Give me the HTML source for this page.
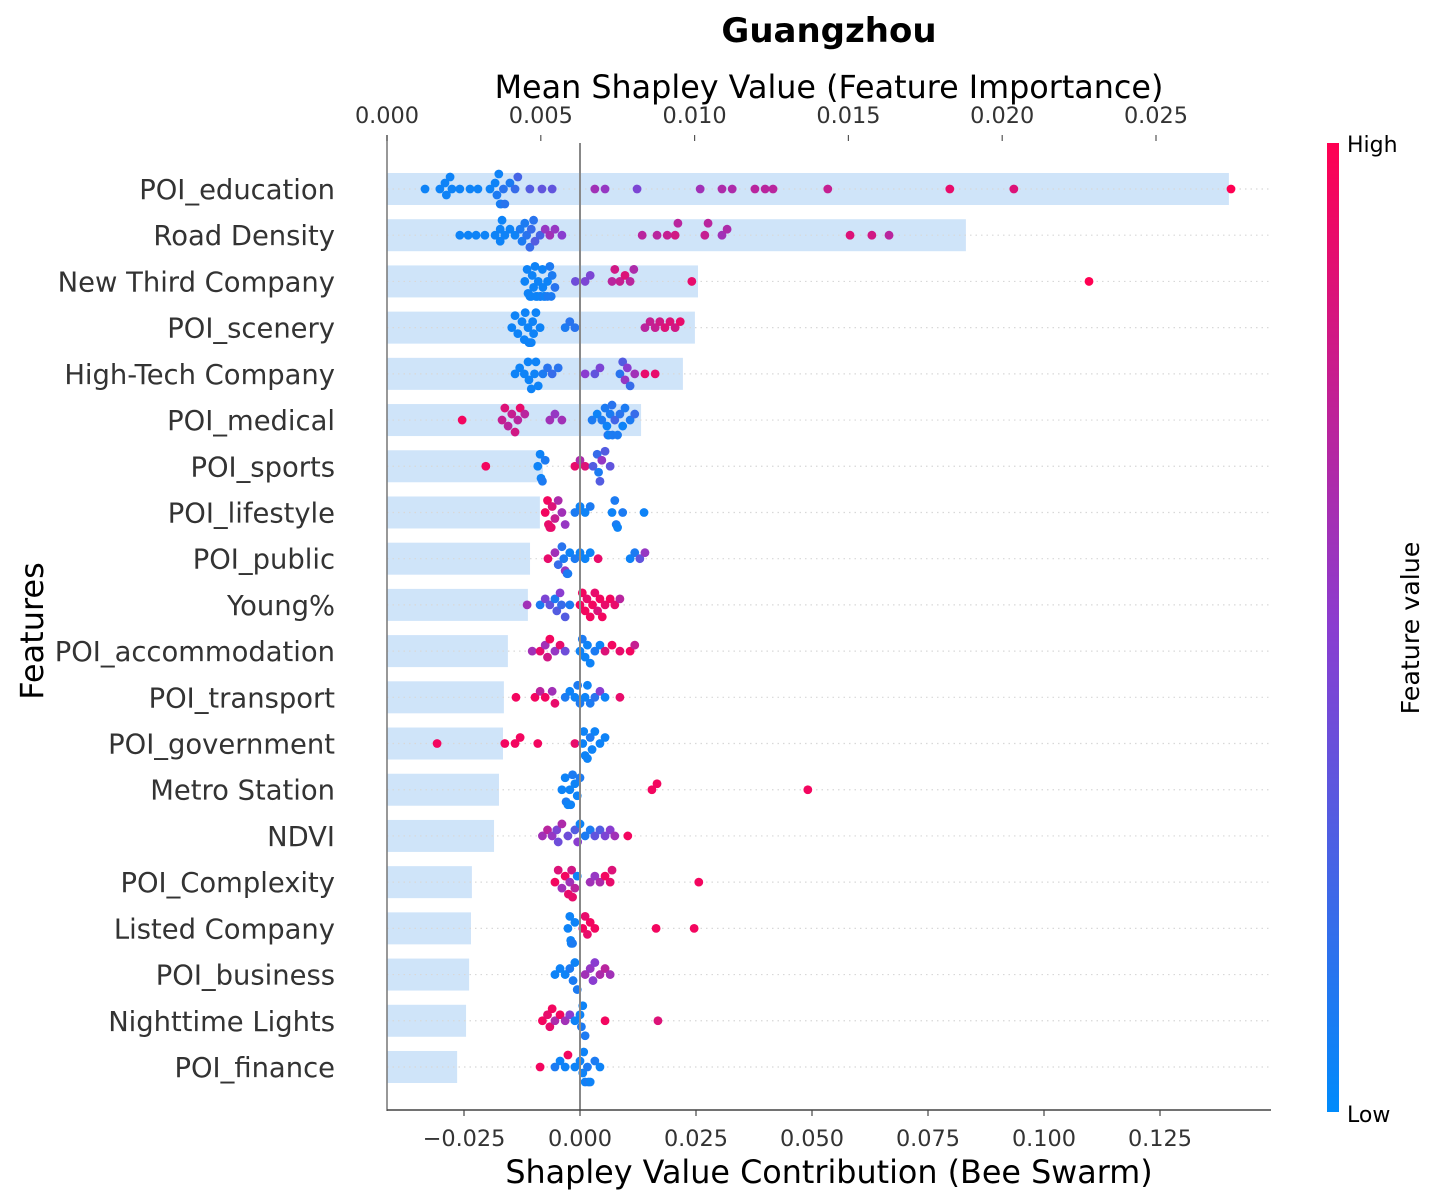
<!DOCTYPE html>
<html><head><meta charset="utf-8">
<style>
html,body{margin:0;padding:0;background:#fff;}
svg{display:block;font-family:"DejaVu Sans","Liberation Sans",sans-serif;}
</style></head>
<body>
<svg id="chart" width="1440" height="1204" viewBox="0 0 1440 1204">
<defs>
<linearGradient id="cbar" x1="0" y1="1" x2="0" y2="0">
<stop offset="0" stop-color="#008bfb"/>
<stop offset="0.5" stop-color="#8a3dd0"/>
<stop offset="1" stop-color="#ff0052"/>
</linearGradient>
</defs>
<text x="829" y="42" text-anchor="middle" font-size="34" font-weight="bold">Guangzhou</text>
<text x="829" y="98" text-anchor="middle" font-size="31.8">Mean Shapley Value (Feature Importance)</text>
<text x="829" y="1183" text-anchor="middle" font-size="31.8">Shapley Value Contribution (Bee Swarm)</text>
<text transform="translate(43,631) rotate(-90)" text-anchor="middle" font-size="32">Features</text>
<rect x="1327" y="143" width="12" height="969" fill="url(#cbar)"/>
<text x="1347" y="152" font-size="22">High</text>
<text x="1347" y="1122" font-size="22">Low</text>
<text transform="translate(1419,628) rotate(-90)" text-anchor="middle" font-size="25.3">Feature value</text>
<g id="bars"></g><g id="grid"></g><g id="dots"></g><g id="axes"></g>
</svg>
<script>
const features = ["POI_education","Road Density","New Third Company","POI_scenery","High-Tech Company","POI_medical","POI_sports","POI_lifestyle","POI_public","Young%","POI_accommodation","POI_transport","POI_government","Metro Station","NDVI","POI_Complexity","Listed Company","POI_business","Nighttime Lights","POI_finance"];
const meanShap = [0.02737,0.01882,0.01011,0.01001,0.00962,0.00826,0.00507,0.00497,0.00465,0.00458,0.00393,0.0038,0.00377,0.00364,0.00348,0.00276,0.00273,0.00267,0.00257,0.00228];
const topTicks = [0,0.005,0.010,0.015,0.020,0.025];
const topTickLabels = ["0.000","0.005","0.010","0.015","0.020","0.025"];
const bottomTicks = [-0.025,0,0.025,0.05,0.075,0.1,0.125];
const bottomTickLabels = ["\u22120.025","0.000","0.025","0.050","0.075","0.100","0.125"];
const shapVals = [
 [-.0334,-.0302,-.0291,-.0276,-.0259,-.0237,-.022,-.0194,-.0183,-.0179,-.0172,-.0162,-.0151,-.014,-.0134,-.0108,-.0082,-.006,.0032,.0054,.0123,.0259,.0306,.0328,.0377,.0399,.0416,.0534,.0797,.0935,.1403,-.0175,-.0170,-.0165,-.0288,-.0280],
 [-.0259,-.0241,-.0224,-.0205,-.0183,-.0172,-.0162,-.0151,-.014,-.0129,-.0119,-.0108,-.0097,-.0086,-.0075,-.0065,-.0054,-.0039,.0134,.0166,.0188,.0205,.0211,.0269,.0276,.0306,.0317,.0582,.0629,.0666,-.0172,-.0168,-.0125,-.0115,-.0105,-.0100],
 [-.0119,-.0114,-.0108,-.0103,-.0097,-.0092,-.0086,-.0081,-.0075,-.0070,-.0065,-.0060,-.0054,-.0112,-.0100,-.0090,-.0080,-.0070,-.0062,-.0010,.0011,.0022,.0069,.0075,.0086,.0097,.0108,.0116,.0241,.1097,-.0105,-.0095,-.0085,-.0078],
 [-.0147,-.0140,-.0134,-.0125,-.0118,-.0112,-.0105,-.0100,-.0095,-.0086,-.0120,-.0108,-.0032,-.0022,-.0011,.0140,.0151,.0162,.0172,.0183,.0194,.0205,.0216,-.0110,-.0102],
 [-.0140,-.0130,-.0120,-.0112,-.0105,-.0098,-.0090,-.0080,-.0070,-.0060,-.0047,-.0110,-.0095,.0011,.0032,.0043,.0086,.0097,.0108,.0118,.0140,.0162,.0092,.0102],
 [-.0254,-.0168,-.0162,-.0155,-.0147,-.0140,-.0134,-.0129,-.0119,-.0065,-.0054,-.0039,.0026,.0037,.0047,.0054,.0060,.0065,.0069,.0075,.0081,.0086,.0092,.0097,.0108,.0118,.0062,.0058,.0070],
 [-.0203,-.0091,-.0086,-.0081,-.0075,-.0011,0,.0011,.0028,.0037,.0043,.0047,.0054,.0065,-.0084,.0040],
 [-.0075,-.0070,-.0065,-.0060,-.0054,-.0047,-.0039,-.0032,-.0011,0,.0011,.0022,.0069,.0075,.0081,.0092,.0138,-.0068,-.0062,.0078],
 [-.0069,-.0054,-.0047,-.0039,-.0032,-.0026,-.0022,-.0011,0,.0011,.0022,.0039,.0108,.0118,.0129,.0140,-.0035,-.0028],
 [-.0114,-.0086,-.0075,-.0065,-.0054,-.0043,-.0032,-.0022,0,.0011,.0022,.0032,.0043,.0054,.0065,.0075,.0086,.0005,.0015,.0027,.0038,.0048,-.0050,-.0040],
 [-.0103,-.0086,-.0075,-.0065,-.0054,-.0043,-.0032,0,.0011,.0022,.0032,.0043,.0054,.0069,.0086,.0108,.0118,.0005,.0016,-.0070],
 [-.0138,-.0097,-.0086,-.0075,-.0060,-.0054,-.0032,-.0022,-.0011,0,.0011,.0022,.0032,.0043,.0054,.0086,-.0005,.0016],
 [-.0308,-.0162,-.0140,-.0129,-.0091,-.0011,.0006,.0011,.0016,.0022,.0032,.0043,.0054,.0008,.0026],
 [-.0039,-.0032,-.0026,-.0022,-.0016,-.0011,-.0006,0,.0155,.0166,.0491,-.0030,-.0020],
 [-.0081,-.0070,-.0060,-.0047,-.0039,-.0026,-.0011,0,.0011,.0022,.0032,.0043,.0054,.0065,.0075,.0103,-.0005,-.0050],
 [-.0054,-.0047,-.0039,-.0032,-.0022,-.0016,-.0011,-.0006,.0022,.0032,.0043,.0054,.0065,.0069,.0256,-.0025,-.0018],
 [-.0026,-.0022,-.0019,-.0016,-.0011,.0006,.0011,.0016,.0022,.0032,.0164,.0246,-.0020],
 [-.0054,-.0043,-.0032,-.0022,-.0011,-.0006,.0011,.0022,.0032,.0043,.0054,.0065,-.0015,.0028],
 [-.0081,-.0070,-.0060,-.0054,-.0043,-.0032,-.0022,-.0011,0,.0006,.0011,.0054,.0168,-.0065,.0003],
 [-.0086,-.0054,-.0043,-.0032,-.0026,-.0011,0,.0006,.0011,.0016,.0022,.0032,.0043,.0008,.0018]
];
const featVals = [
 [.05,.05,.05,.05,.05,.05,.05,.05,.05,.1,.05,.15,.1,.2,.25,.3,.35,.35,.6,.55,.45,.6,.65,.65,.7,.7,.7,.75,.9,.85,1,.05,.1,.15,.05,.05],
 [.05,.05,.05,.05,.05,.05,.05,.05,.05,.1,.1,.2,.3,.25,.55,.6,.55,.5,.7,.7,.75,.8,.7,.75,.7,.6,.65,.85,.8,.7,.05,.05,.1,.15,.2,.15],
 [.05,.05,.05,.05,.05,.05,.05,.05,.05,.05,.1,.1,.15,.05,.05,.05,.05,.1,.1,.4,.45,.45,.7,.8,.75,.85,.7,.65,.9,1,.05,.05,.05,.1],
 [.05,.05,.05,.05,.05,.05,.05,.05,.05,.05,.05,.05,.1,.15,.15,.7,.75,.75,.8,.85,.85,.8,.9,.05,.05],
 [.05,.05,.05,.05,.05,.05,.05,.1,.15,.2,.15,.05,.05,.5,.35,.45,.15,.55,.2,.6,.9,.9,.3,.5],
 [.95,.75,.85,.7,.75,.8,.7,.9,.7,.6,.55,.6,.1,.05,.1,.1,.2,.1,.15,.25,.1,.15,.05,.1,.1,.2,.05,.05,.1],
 [.95,.05,.05,.1,.1,.9,.65,.85,.3,.2,.3,.55,.3,.35,.05,.1],
 [.95,.95,.9,.85,.75,.65,.6,.55,.1,.05,.05,.1,.05,.1,.05,.1,.05,.9,.9,.1],
 [.9,.6,.2,.15,.55,.1,.05,.1,.05,.05,.05,.9,.05,.1,.35,.55,.1,.15],
 [.6,.1,.45,.35,.1,.5,.3,.1,.95,.95,.95,.9,.95,.9,.95,.9,.7,.95,.9,.95,.85,.95,.3,.2],
 [.6,.9,.6,.95,.55,.9,.4,.05,.05,.05,.1,.05,.85,.95,.9,.95,.75,.1,.05,.8],
 [.95,.95,.7,.95,.6,.9,.1,.05,.05,.1,.05,.1,.15,.5,.05,.9,.1,.05],
 [.95,.95,.95,.95,.95,.9,.05,.05,.05,.1,.05,.05,.05,.05,.05],
 [.05,.05,.05,.05,.1,.05,.05,.1,.95,.95,.95,.1,.05],
 [.6,.7,.55,.4,.65,.4,.3,.05,.1,.1,.35,.3,.45,.5,.6,.95,.5,.45],
 [.95,.85,.6,.95,.6,.9,.7,.05,.6,.55,.65,.95,.9,.85,.95,.9,.8],
 [.05,.05,.05,.1,.05,.95,.9,.9,.95,.95,.95,.95,.05],
 [.05,.05,.05,.1,.05,.1,.6,.55,.5,.65,.7,.6,.1,.5],
 [.95,.9,.95,.65,.95,.6,.5,.05,.05,.05,.1,.95,.85,.9,.1],
 [.95,.1,.05,.05,.95,.05,.05,.05,.05,.1,.05,.1,.05,.05,.1]
];
const NS="http://www.w3.org/2000/svg";
const X0=580, XS=4640;
const T0=387, TS=30760;
const Y0=189, YS=46.21;
function xB(v){return X0+v*XS;}
function xT(v){return T0+v*TS;}
function yR(i){return Y0+i*YS;}
function mk(tag,attrs,parent){const e=document.createElementNS(NS,tag);for(const k in attrs)e.setAttribute(k,attrs[k]);parent.appendChild(e);return e;}
function lerp(a,b,t){return Math.round(a+(b-a)*t);}
function cmap(t){
  const s=[[0,139,251],[138,61,208],[255,0,82]];
  let a,b,u; if(t<0.5){a=s[0];b=s[1];u=t/0.5;}else{a=s[1];b=s[2];u=(t-0.5)/0.5;}
  return `rgb(${lerp(a[0],b[0],u)},${lerp(a[1],b[1],u)},${lerp(a[2],b[2],u)})`;
}
const gBars=document.getElementById('bars'),gGrid=document.getElementById('grid'),gDots=document.getElementById('dots'),gAx=document.getElementById('axes');
features.forEach((f,i)=>{
  const y=yR(i);
  const ln=mk('line',{x1:387,x2:1270,y1:y,y2:y,stroke:'#d8d8d8','stroke-width':1.2,'stroke-dasharray':'1.5 4'},gGrid);
  
  
  const r=mk('rect',{x:T0,y:y-16,width:xT(meanShap[i])-T0,height:32,fill:'#cfe4f9'},gBars);
  
  
  const t=mk('text',{x:335,y:y+10,'text-anchor':'end','font-size':27.4,fill:'#333'},gAx);
  t.textContent=f;
  
  
  const idx=shapVals[i].map((v,k)=>k).sort((a,b)=>shapVals[i][a]-shapVals[i][b]);
  const placed=[];
  idx.forEach(k=>{
    const px=xB(shapVals[i][k]);
    const offs=[0,-6,6,-12,12,-15,15];
    let oy=0;
    for(const o of offs){
      if(placed.every(p=>Math.hypot(p[0]-px,p[1]-o)>=7.5)){oy=o;break;}
      oy=o;
    }
    placed.push([px,oy]);
    const c=mk('circle',{cx:px,cy:y+oy,r:4.4,fill:cmap(featVals[i][k])},gDots);
    
    
  });
});
const z=mk('line',{x1:xB(0),x2:xB(0),y1:143,y2:1110,stroke:'#888','stroke-width':2},gAx);


const ls=mk('line',{x1:387,x2:387,y1:135,y2:1111,stroke:'#777','stroke-width':1.5},gAx);


const bs=mk('line',{x1:387,x2:1271,y1:1110,y2:1110,stroke:'#444','stroke-width':1.5},gAx);


topTicks.forEach((v,k)=>{
  const x=xT(v);
  const tk=mk('line',{x1:x,x2:x,y1:135,y2:141,stroke:'#555','stroke-width':1.2},gAx);
  
  
  const t=mk('text',{x:x,y:123,'text-anchor':'middle','font-size':22.4,fill:'#333'},gAx);
  t.textContent=topTickLabels[k];
  
  
});
bottomTicks.forEach((v,k)=>{
  const x=xB(v);
  const tk=mk('line',{x1:x,x2:x,y1:1110,y2:1116,stroke:'#444','stroke-width':1.2},gAx);
  
  
  const t=mk('text',{x:x,y:1146,'text-anchor':'middle','font-size':22.4,fill:'#333'},gAx);
  t.textContent=bottomTickLabels[k];
  
  
});
</script>
</body></html>
